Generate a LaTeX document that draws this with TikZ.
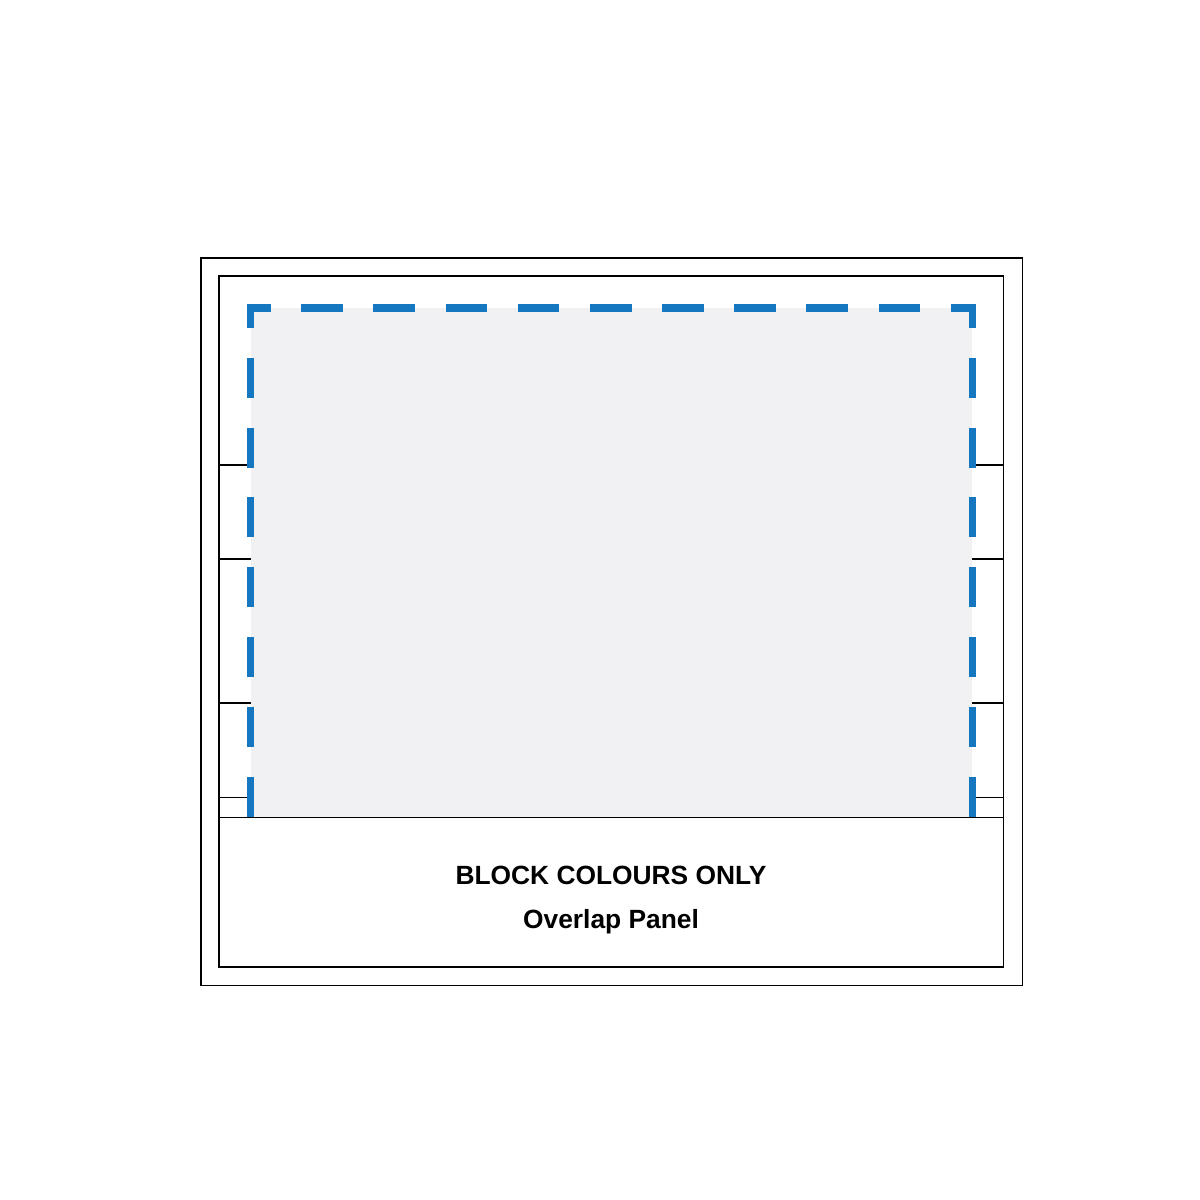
\documentclass[tikz,border=0pt]{standalone}
\usepackage{fontspec}
\setmainfont{Liberation Sans}
\usepackage{xcolor}
\definecolor{panelgrey}{HTML}{F1F1F3}
\definecolor{bleedblue}{HTML}{1477C0}
\begin{document}
\begin{tikzpicture}[x=0.02cm, y=-0.02cm,
    frame/.style={draw=black, line width=0.75pt},
    guide/.style={draw=bleedblue, line width=4.15pt},
    guideh/.style={guide, dash pattern=on 23.73pt off 17.35pt, dash phase=10.07pt},
    guidev/.style={guide, dash pattern=on 22.76pt off 16.96pt, dash phase=9.27pt},
    label/.style={font=\fontsize{15}{18}\selectfont\bfseries, anchor=base}]
    \useasboundingbox (0, 0) rectangle (1200, 1200);

    % panel area
    \fill[panelgrey] (250.5, 308) rectangle (972.2, 817);

    % frames
    \draw[frame] (201, 258) rectangle (1022.3, 985.7);
    \draw[frame] (219, 276) rectangle (1003.7, 967);
    \draw[frame] (219, 817.3) -- (1003.7, 817.3);

    % side ticks
    \foreach \y in {465, 559, 703, 797.3} {
        \draw[frame] (219, \y) -- (250.5, \y);
        \draw[frame] (972.2, \y) -- (1003.7, \y);
    }

    % dashed guide
    \draw[guideh] (246.7, 308) -- (975.7, 308);
    \draw[guidev] (250.5, 304.3) -- (250.5, 817);
    \draw[guidev] (972.2, 304.3) -- (972.2, 817);

    \node[label] (title) at (611, 884) {BLOCK COLOURS ONLY};
    \node[label] (sub) at (611, 928.5) {Overlap Panel};
\end{tikzpicture}
\end{document}
